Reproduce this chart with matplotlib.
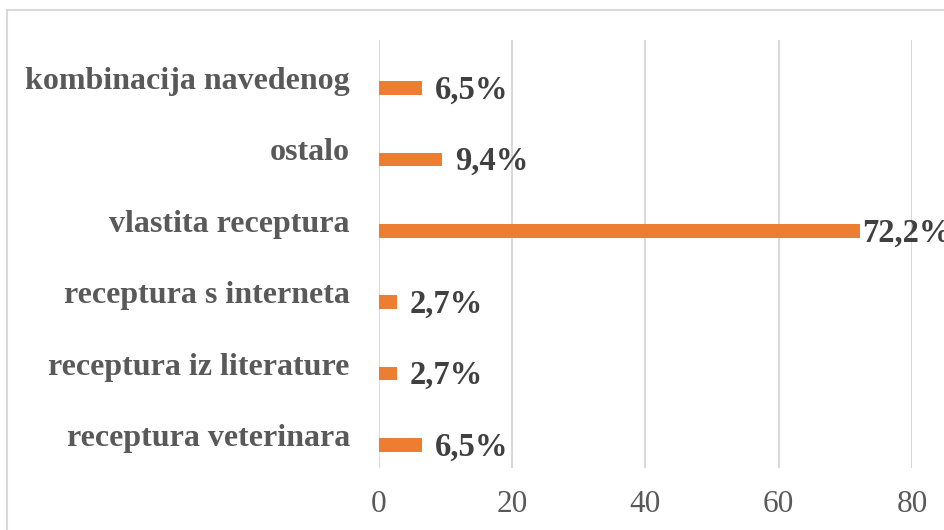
# Horizontal bar chart: source of recipes
import matplotlib.pyplot as plt
import matplotlib.transforms as mtransforms
from matplotlib.patches import Rectangle

plt.rcParams['font.family'] = ['Liberation Serif', 'DejaVu Serif']

# Data (bottom to top)
categories = ['receptura veterinara', 'receptura iz literature',
              'receptura s interneta', 'vlastita receptura',
              'ostalo', 'kombinacija navedenog']
values = [6.5, 2.7, 2.7, 72.2, 9.4, 6.5]
value_labels = ['6,5%', '2,7%', '2,7%', '72,2%', '9,4%', '6,5%']
xticks = [0, 20, 40, 60, 80]

bar_color = '#ED7D31'
grid_color = '#D9D9D9'

fig = plt.figure(figsize=(9.45, 5.3), dpi=100)
ax = fig.add_axes([379 / 945, 1 - 468 / 530, 533 / 945, 428 / 530])

pos = list(range(len(categories)))
ax.barh(pos, values, height=0.19, color=bar_color, zorder=3)

ax.set_xlim(0, 80)
ax.set_ylim(-0.322, 5.672)
ax.set_xticks(xticks)
ax.set_xticklabels([str(t) for t in xticks], fontsize=22.5, color='#595959')
ax.tick_params(axis='x', length=0, pad=16)
ax.set_yticks(pos)
ax.set_yticklabels(categories, fontsize=23, fontweight='bold', color='#595959')
ax.tick_params(axis='y', length=0, pad=21)

# category labels sit a bit above their bars
shift = mtransforms.ScaledTranslation(0, 10 / 100, fig.dpi_scale_trans)
for lab in ax.get_yticklabels():
    lab.set_transform(lab.get_transform() + shift)

ax.grid(axis='x', color=grid_color, linewidth=1.5, zorder=0)
for s in ax.spines.values():
    s.set_visible(False)

# value labels
for y, v, txt in zip(pos, values, value_labels):
    off = 2 if v > 70 else 13
    ax.annotate(txt, (v, y), xytext=(off * 0.72, -2 * 0.72), textcoords='offset points',
                ha='left', va='center', fontsize=23.5, fontweight='bold',
                color='#404040', zorder=4, annotation_clip=False)

# outer chart frame
fig.patches.append(Rectangle((7 / 945, -0.1), 1.2, 1 - 10 / 530 + 0.1,
                             transform=fig.transFigure, fill=False,
                             edgecolor=grid_color, linewidth=1.5))

fig.savefig('out.png', dpi=100)
